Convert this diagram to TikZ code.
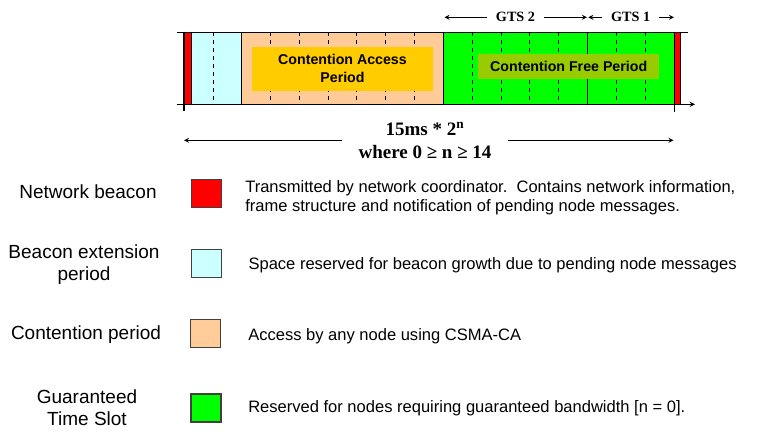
\documentclass[tikz,border=0pt]{standalone}
\usepackage{fontspec}
\setmainfont{Liberation Serif}
\setsansfont{Liberation Sans}
\usepackage{tikz}
\usetikzlibrary{arrows,positioning,calc}
\tikzstyle{arrow} = [->, >=stealth, line width=0.7pt]
\definecolor{beacon}{HTML}{FF0000}
\definecolor{bext}{HTML}{CCFFFF}
\definecolor{capfill}{HTML}{FFCC99}
\definecolor{capbox}{HTML}{FFCC00}
\definecolor{gtsfill}{HTML}{00FF00}
\definecolor{cfpbox}{HTML}{99CC00}

\begin{document}
\begin{tikzpicture}[x=0.75pt,y=-0.75pt]
\tikzset{slotline/.style={dash pattern=on 3pt off 3pt,line width=0.7pt},
keybox/.style={draw=black!75,line width=0.8pt,minimum width=22.5pt,minimum height=21pt,inner sep=0pt},
lbl/.style={font=\sffamily\fontsize{14.25}{16.5}\selectfont,align=center},
desc/.style={font=\sffamily\fontsize{12.4}{14.25}\selectfont,align=left,anchor=west,inner sep=0pt},
hdr/.style={font=\bfseries\fontsize{10.65}{12}\selectfont,inner xsep=6.5pt}}
\useasboundingbox (0,0) rectangle (758,439);

% superframe
\fill[beacon] (184,32.3) rectangle (191.7,104.3);
\fill[bext] (191.7,32.3) rectangle (241.7,104.3);
\fill[capfill] (241.7,32.3) rectangle (443.3,104.3);
\fill[gtsfill] (443.3,32.3) rectangle (674.3,104.3);
\fill[beacon] (674.3,32.3) rectangle (680.7,104.3);
\draw[slotline] (213,32.3) -- (213,104.3);
\foreach \i in {1,2,...,6} {
\draw[slotline] (241.7+\i*28.8,32.3) -- (241.7+\i*28.8,104.3); }
\foreach \i in {1,2,3,4,6,7} {
\draw[slotline] (443.3+\i*28.875,32.3) -- (443.3+\i*28.875,104.3); }
\foreach \x in {191.7,241.7,443.3,587.7,680.7} {
\draw[line width=0.8pt] (\x,32.3) -- (\x,104.3); }
\draw[line width=0.8pt] (184,32.3) -- (184,111);
\draw[line width=0.8pt] (674.3,32.3) -- (674.3,111.5);
\draw[line width=0.8pt] (176.7,32.3) -- (688.3,32.3);
\draw[arrow,line width=0.8pt] (176.7,104.3) -- (695,104.3);

\node[fill=capbox,minimum width=136.2pt,minimum height=33pt,align=center,font=\sffamily\bfseries\fontsize{10.65}{13.5}\selectfont] (capn) at (342.5,68.7) {Contention Access\\Period};
\node[fill=cfpbox,minimum width=135.5pt,minimum height=19pt,font=\sffamily\bfseries\fontsize{10.65}{12}\selectfont] (cfpn) at (568.7,66.7) {Contention Free Period};

% GTS headers
\node[hdr] (gts2) at (515.5,17.3) {GTS 2};
\node[hdr] (gts1) at (630.7,17.3) {GTS 1};
\coordinate (gts2L) at (444.5,17.3);
\coordinate (gts2R) at (587,17.3);
\coordinate (gts1L) at (588.3,17.3);
\coordinate (gts1R) at (674,17.3);
\draw[arrow] (gts2) -- (gts2L);
\draw[arrow] (gts2) -- (gts2R);
\draw[arrow] (gts1) -- (gts1L);
\draw[arrow] (gts1) -- (gts1R);

% superframe length
\node[font=\bfseries\fontsize{14.25}{17.5}\selectfont,align=center,inner xsep=12pt] (len) at (425,140.3) {15ms * 2\textsuperscript{n}\\where 0 ≥ n ≥ 14};
\coordinate (lenL) at (184,140.3);
\coordinate (lenR) at (673.5,140.3);
\draw[arrow] (len) -- (lenL);
\draw[arrow] (len) -- (lenR);

% legend
\node[lbl] (nb) at (88,191.7) {Network beacon};
\node[lbl] (be) at (84,264.3) {Beacon extension\\period};
\node[lbl] (cp) at (86,335) {Contention period};
\node[lbl] (gt) at (87,407.5) {Guaranteed\\Time Slot};

\node[keybox,fill=beacon] (knb) at (206.2,193.5) {};
\node[keybox,fill=bext] (kbe) at (206.2,263.5) {};
\node[keybox,fill=capfill] (kcp) at (205.8,333.3) {};
\node[keybox,fill=gtsfill] (kgt) at (206,408) {};

\node[desc] (dnb) at (245,197.8) {Transmitted by network coordinator.\ \ Contains network information,\\frame structure and notification of pending node messages.};
\node[desc] (dbe) at (248.3,265) {Space reserved for beacon growth due to pending node messages};
\node[desc] (dcp) at (248,336) {Access by any node using CSMA-CA};
\node[desc] (dgt) at (248,408.3) {Reserved for nodes requiring guaranteed bandwidth [n = 0].};

\end{tikzpicture}
\end{document}
